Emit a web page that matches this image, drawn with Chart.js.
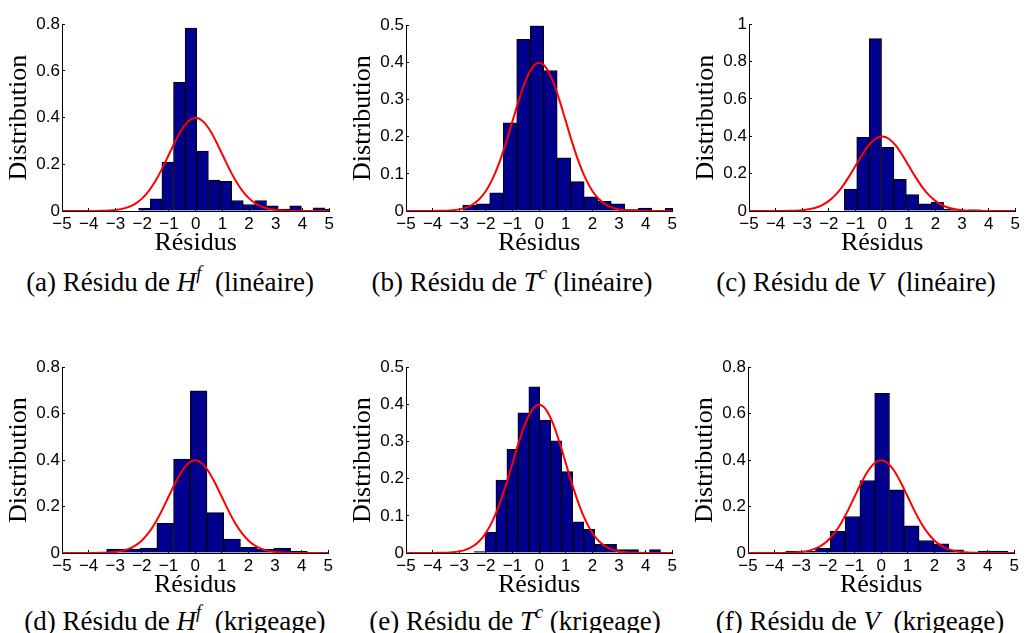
<!DOCTYPE html>
<html><head><meta charset="utf-8">
<script src="https://cdn.jsdelivr.net/npm/chart.js@4.4.1/dist/chart.umd.min.js"></script>
<style>
html,body{margin:0;padding:0;background:#fff;overflow:hidden;width:1026px;height:633px;position:relative;}
canvas{position:absolute;}
.cap{position:absolute;width:400px;text-align:center;font-family:"Liberation Serif",serif;font-size:27px;line-height:30px;color:#000;white-space:nowrap;}
.cap sup{font-size:0.68em;line-height:0;vertical-align:0.65em;}
</style></head><body>
<div class="cap" style="left:-30px;top:267px">(a) Résidu de <i>H</i><sup><i>f</i></sup>&nbsp; (linéaire)</div>
<div class="cap" style="left:312px;top:267px">(b) Résidu de <i>T</i><sup><i>c</i></sup>&nbsp;(linéaire)</div>
<div class="cap" style="left:656px;top:267px">(c) Résidu de <i>V</i>&nbsp; (linéaire)</div>
<div class="cap" style="left:-25px;top:606px">(d) Résidu de <i>H</i><sup><i>f</i></sup>&nbsp; (krigeage)</div>
<div class="cap" style="left:315px;top:606px">(e) Résidu de <i>T</i><sup><i>c</i></sup>&nbsp;(krigeage)</div>
<div class="cap" style="left:660px;top:606px">(f) Résidu de <i>V</i>&nbsp; (krigeage)</div>
<script>
// x tick values (Résidus)
const residusTicks = [-5, -4, -3, -2, -1, 0, 1, 2, 3, 4, 5];
// y tick values
const yTicks08 = [0, 0.2, 0.4, 0.6, 0.8];
const yTicks05 = [0, 0.1, 0.2, 0.3, 0.4, 0.5];
const yTicks10 = [0, 0.2, 0.4, 0.6, 0.8, 1];

// red reference curve
const curveX = [-5, -4.75, -4.5, -4.25, -4, -3.75, -3.5, -3.25, -3, -2.75, -2.5, -2.25, -2, -1.75, -1.5, -1.25, -1, -0.75, -0.5, -0.25, 0,
                0.25, 0.5, 0.75, 1, 1.25, 1.5, 1.75, 2, 2.25, 2.5, 2.75, 3, 3.25, 3.5, 3.75, 4, 4.25, 4.5, 4.75, 5];
const curveY = [0, 0, 0, 0, 0.0001, 0.0004, 0.0009, 0.002, 0.0044, 0.0091, 0.0175, 0.0317, 0.054, 0.0863, 0.1295, 0.1826, 0.242, 0.3011, 0.3521, 0.3867, 0.3989,
                0.3867, 0.3521, 0.3011, 0.242, 0.1826, 0.1295, 0.0863, 0.054, 0.0317, 0.0175, 0.0091, 0.0044, 0.002, 0.0009, 0.0004, 0.0001, 0, 0, 0, 0];

// (a) H^f linéaire
const centersA = [-1.915, -1.48, -1.045, -0.61, -0.175, 0.26, 0.695, 1.13, 1.565, 2.0, 2.435, 2.87, 3.305, 3.74, 4.175, 4.61, 5.045];
const heightsA = [0.013, 0.052, 0.209, 0.551, 0.783, 0.257, 0.132, 0.127, 0.045, 0.028, 0.045, 0.022, 0.008, 0.022, 0, 0.014, 0.008];
// (b) T^c linéaire
const centersB = [-2.617, -2.11, -1.603, -1.096, -0.589, -0.082, 0.425, 0.932, 1.439, 1.946, 2.453, 2.96, 3.467, 3.974, 4.481, 4.988];
const heightsB = [0.015, 0.019, 0.049, 0.237, 0.462, 0.498, 0.378, 0.143, 0.079, 0.038, 0.026, 0.019, 0.004, 0.008, 0, 0.007];
// (c) V linéaire
const centersC = [-1.187, -0.721, -0.255, 0.211, 0.677, 1.143, 1.609, 2.075, 2.541, 3.007, 3.473];
const heightsC = [0.118, 0.394, 0.923, 0.341, 0.170, 0.088, 0.038, 0.046, 0.010, 0.004, 0.006];
// (d) H^f krigeage
const centersD = [-3.636, -3.008, -2.38, -1.752, -1.124, -0.496, 0.132, 0.76, 1.388, 2.016, 2.644, 3.272, 3.9, 4.528, 5.156];
const heightsD = [0.004, 0.017, 0.017, 0.021, 0.128, 0.404, 0.698, 0.174, 0.060, 0.024, 0.017, 0.021, 0.007, 0.003, 0.003];
// (e) T^c krigeage
const centersE = [-2.241, -1.829, -1.417, -1.005, -0.593, -0.181, 0.231, 0.643, 1.055, 1.467, 1.879, 2.291, 2.703, 3.115, 3.527, 3.939, 4.351];
const heightsE = [0.004, 0.056, 0.196, 0.279, 0.377, 0.447, 0.358, 0.302, 0.219, 0.084, 0.064, 0.023, 0.023, 0.009, 0.009, 0, 0.009];
// (f) V krigeage
const centersF = [-4.412, -3.856, -3.3, -2.744, -2.188, -1.632, -1.076, -0.52, 0.036, 0.592, 1.148, 1.704, 2.26, 2.816, 3.372, 3.928, 4.484];
const heightsF = [0.004, 0, 0.008, 0.007, 0.020, 0.093, 0.157, 0.312, 0.687, 0.272, 0.117, 0.054, 0.040, 0.014, 0.004, 0.008, 0.008];

Chart.defaults.color = '#000';

function makePanel(centers, heights, yTicks, box) {
  const YW = 62, PT = 12, PR = 7, XH = 50;
  const cv = document.createElement('canvas');
  const w = YW + (box.r - box.l) + PR, h = PT + (box.b - box.t) + XH;
  cv.width = w; cv.height = h;
  cv.style.left = (box.l - YW) + 'px'; cv.style.top = (box.t - PT) + 'px';
  cv.style.width = w + 'px'; cv.style.height = h + 'px';
  document.body.appendChild(cv);
  new Chart(cv, {
    type: 'bar',
    data: { datasets: [
      { type: 'line', data: curveX.map((x, i) => ({x: x, y: curveY[i]})), borderColor: '#ff0000', borderWidth: 2,
        pointRadius: 0, cubicInterpolationMode: 'monotone', order: 0 },
      { type: 'bar', data: centers.map((x, i) => ({x: x, y: heights[i]})), backgroundColor: '#00008c',
        borderColor: '#000', borderWidth: 1, barPercentage: 1, categoryPercentage: 1, order: 1 }
    ]},
    options: {
      responsive: false, animation: false, devicePixelRatio: 1,
      layout: { padding: { top: PT, right: PR, left: 0, bottom: 0 } },
      plugins: { legend: { display: false }, tooltip: { enabled: false } },
      scales: {
        x: {
          type: 'linear', min: -5, max: 5, offset: false,
          afterFit: s => { s.height = XH; },
          afterBuildTicks: s => { s.ticks = residusTicks.map(v => ({value: v})); },
          ticks: { autoSkip: false, maxRotation: 0, padding: 6, color: '#000',
                   font: { family: 'Liberation Sans', size: 17 },
                   callback: v => v < 0 ? '\u2212' + Math.abs(v) : String(v) },
          grid: { drawOnChartArea: false, offset: false, color: '#000', tickLength: -3 },
          border: { display: true, color: '#000', width: 1 },
          title: { display: true, text: 'Résidus', color: '#000',
                   font: { family: 'Liberation Serif', size: 26 }, padding: { top: 0, bottom: 2 } }
        },
        y: {
          min: 0, max: yTicks[yTicks.length - 1],
          afterFit: s => { s.width = YW; },
          afterBuildTicks: s => { s.ticks = yTicks.map(v => ({value: v})); },
          ticks: { autoSkip: false, padding: 5, color: '#000',
                   font: { family: 'Liberation Sans', size: 17 },
                   callback: v => String(v) },
          grid: { drawOnChartArea: false, color: '#000', tickLength: -3 },
          border: { display: true, color: '#000', width: 1 },
          title: { display: true, text: 'Distribution', color: '#000',
                   font: { family: 'Liberation Serif', size: 26 }, padding: { top: 4, bottom: 0 } }
        }
      }
    }
  });
}

makePanel(centersA, heightsA, yTicks08, {l: 62, r: 333, t: 21, b: 211});
makePanel(centersB, heightsB, yTicks05, {l: 406, r: 676, t: 22, b: 211});
makePanel(centersC, heightsC, yTicks10, {l: 749, r: 1019, t: 21, b: 211});
makePanel(centersD, heightsD, yTicks08, {l: 62, r: 332, t: 364, b: 553});
makePanel(centersE, heightsE, yTicks05, {l: 406, r: 676, t: 364, b: 553});
makePanel(centersF, heightsF, yTicks08, {l: 748, r: 1018, t: 364, b: 553});
</script>
</body></html>
